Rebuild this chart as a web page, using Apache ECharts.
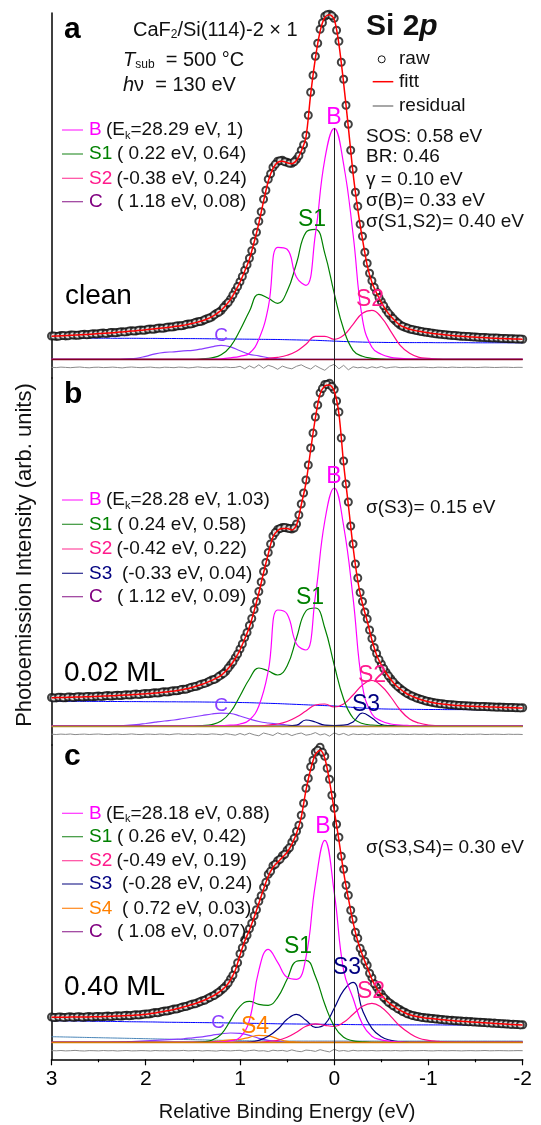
<!DOCTYPE html>
<html>
<head>
<meta charset="utf-8">
<script src="https://cdn.jsdelivr.net/npm/echarts@6/dist/echarts.min.js"></script>
<style>
  html, body { margin: 0; padding: 0; background: #fff; }
  #chart { width: 541px; height: 1125px; }
</style>
</head>
<body>
<div id="chart"></div>
<script>
// relative binding energy grids (eV)
const E05 = [3,2.95,2.9,2.85,2.8,2.75,2.7,2.65,2.6,2.55, 2.5,2.45,2.4,2.35,2.3,2.25,2.2,2.15,2.1,2.05,
  2,1.95,1.9,1.85,1.8,1.75,1.7,1.65,1.6,1.55, 1.5,1.45,1.4,1.35,1.3,1.25,1.2,1.15,1.1,1.05,
  1,0.95,0.9,0.85,0.8,0.75,0.7,0.65,0.6,0.55, 0.5,0.45,0.4,0.35,0.3,0.25,0.2,0.15,0.1,0.05,
  0,-0.05,-0.1,-0.15,-0.2,-0.25,-0.3,-0.35,-0.4,-0.45, -0.5,-0.55,-0.6,-0.65,-0.7,-0.75,-0.8,-0.85,-0.9,-0.95,
  -1,-1.05,-1.1,-1.15,-1.2,-1.25,-1.3,-1.35,-1.4,-1.45, -1.5,-1.55,-1.6,-1.65,-1.7,-1.75,-1.8,-1.85,-1.9,-1.95, -2];
// the in-between raw data points
const Emid = [2.975,2.925,2.875,2.825,2.775,2.725,2.675,2.625,2.575,2.525, 2.475,2.425,2.375,2.325,2.275,2.225,2.175,2.125,2.075,2.025,
  1.975,1.925,1.875,1.825,1.775,1.725,1.675,1.625,1.575,1.525, 1.475,1.425,1.375,1.325,1.275,1.225,1.175,1.125,1.075,1.025,
  0.975,0.925,0.875,0.825,0.775,0.725,0.675,0.625,0.575,0.525, 0.475,0.425,0.375,0.325,0.275,0.225,0.175,0.125,0.075,0.025,
  -0.025,-0.075,-0.125,-0.175,-0.225,-0.275,-0.325,-0.375,-0.425,-0.475, -0.525,-0.575,-0.625,-0.675,-0.725,-0.775,-0.825,-0.875,-0.925,-0.975,
  -1.025,-1.075,-1.125,-1.175,-1.225,-1.275,-1.325,-1.375,-1.425,-1.475, -1.525,-1.575,-1.625,-1.675,-1.725,-1.775,-1.825,-1.875,-1.925,-1.975];
const E10 = [3,2.9,2.8,2.7,2.6,2.5,2.4,2.3,2.2,2.1, 2,1.9,1.8,1.7,1.6,1.5,1.4,1.3,1.2,1.1,
  1,0.9,0.8,0.7,0.6,0.5,0.4,0.3,0.2,0.1, 0,-0.1,-0.2,-0.3,-0.4,-0.5,-0.6,-0.7,-0.8,-0.9,
  -1,-1.1,-1.2,-1.3,-1.4,-1.5,-1.6,-1.7,-1.8,-1.9, -2];

// ---- panel a : clean ----
const rawA = [23.3,22.9,23.8,23.4,24.3,24.0,24.2,25.0,24.8,25.6, 25.5,26.3,26.1,26.9,26.8,27.6,27.5,28.5,28.4,29.3,
  29.3,30.3,30.2,31.3,31.3,32.4,32.5,33.6,33.8,35.3, 35.8,37.5,38.3,40.6,42.3,45.9,48.8,54.5,60.2,68.6,
  77.5,89,101,118,138,160,180,192,198,199, 197,196,200,209,224,267,303,330,343,345,
  341,318,280,235,190,153,123,96,78.5,67, 57.8,49.6,43.5,38.4,34.3,32.1,30.3,29.2,28.2,27.4,
  26.7,26.0,25.3,24.9,24.4,23.9,23.6,23.1,22.9,22.5, 22.3,21.9,21.8,21.4,21.3,21.0,20.9,20.6,20.5,20.3, 20.1];
const rawAm = [23.4,23.1,23.9,23.6,24.4,24.1,24.8,24.6,25.4,25.3, 26.1,25.9,26.7,26.6,27.4,27.4,28.2,28.2,29.0,29.1,
  30.0,30.0,31.0,31.0,32.0,32.2,33.2,33.5,34.7,35.3, 36.8,37.7,39.6,41.2,44.2,47.0,51.8,56.8,64.3,72.8,
  82.8,94.5,108.5,127,147.5,169,185.5,195,198.5,197.5, 196,197.5,203.5,214.5,244,284,316,336.5,344.5,343.5,
  329,297,254,209,167,135,107,86,72,61.8, 53.5,46.2,40.8,36.3,33.1,31.2,29.7,28.7,27.8,27.0,
  26.3,25.6,25.1,24.6,24.1,23.8,23.3,23.0,22.7,22.4, 22.1,21.9,21.6,21.4,21.2,20.9,20.8,20.5,20.4,20.2];
const fitA = [23.0,23.2,23.5,23.7,24.0,24.2,24.5,24.7,25.0,25.3, 25.7,26.0,26.3,26.6,27.0,27.4,27.8,28.2,28.6,29.0,
  29.5,30.0,30.5,31.0,31.5,32.1,32.7,33.3,34.0,35.0, 36.0,37.2,38.5,40.3,42.5,45.5,49.0,54.0,60.0,68.0,
  77,88,100,117,136,158,178,191,197,198, 196.5,195.5,199,208,222,265,301,328,342,344.5,
  340,315,276,232,186,150,120,94,77,66, 57,49,43,38,34,31.8,30,29,28,27.2,
  26.5,25.8,25.2,24.7,24.2,23.8,23.4,23.0,22.7,22.4, 22.1,21.8,21.6,21.3,21.1,20.9,20.7,20.5,20.3,20.2, 20.0];
const resA = [-8.0,-8.3,-7.8,-8.1,-8.4,-8.0,-7.7,-8.2,-8.5,-8.0, -7.9,-8.3,-8.1,-7.8,-8.2,-8.6,-8.0,-7.7,-8.1,-8.4,
  -8.0,-7.8,-8.3,-8.5,-7.9,-8.1,-8.4,-7.8,-8.0,-8.6, -8.2,-7.6,-8.1,-8.5,-7.9,-8.0,-8.4,-7.7,-8.3,-8.1,
  -7.0,-9.5,-6.5,-8.8,-5.5,-9.0,-6.0,-7.5,-10.0,-6.8, -8.5,-9.5,-7.0,-5.5,-8.0,-9.8,-6.2,-8.8,-11.0,-7.0,
  -5.0,-9.5,-6.0,-10.5,-7.5,-8.5,-7.8, -9.0,-7.5,-8.6,-7.2,-8.8,-8.0,-7.6,-8.4,-8.1,-7.9,-8.3,-8.0,-7.8,
  -8.2,-8.4,-7.9,-8.0,-8.3,-7.8,-8.1,-8.2,-7.9,-8.0,-8.3,-8.1,-7.8,-8.0,-8.2,-8.1,-7.9,-8.0,-8.2,-8.0,-8.1];
const bgA = [21.3,21.3,21.2,21.2,21.2,21.1,21.1,21.0,21.0,21.0, 20.9,20.9,20.8,20.8,20.7,20.7,20.6,20.5,20.4,20.3,
  20.2,20.1,20.0,19.9,19.8,19.6,19.4,19.2,19.0,18.6, 18.2,17.8,17.5,17.2,17.0,16.9,16.8,16.8,16.7,16.7,
  16.7,16.6,16.6,16.6,16.6,16.5,16.5,16.5,16.5,16.5, 16.5];
const bA = [0,0,0,0,0,0,0,0,0,0, 0,0,0,0,0,0,0,0.2,0.5,1.5, 3,6,20,52,112,110,82,74,125,200,
  231,195,125,40,12,5,2,1,0.5,0.3, 0.2,0,0,0,0,0,0,0,0,0, 0];
const s1A = [0,0,0,0,0,0,0,0,0,0, 0,0,0,0,0,0,0.5,1.4,4.5,13, 29,48,65,61,56,68,96,127,130,106,
  66,30,9,3,1,0.3,0,0,0,0, 0,0,0,0,0,0,0,0,0,0, 0];
const s2A = [0,0,0,0,0,0,0,0,0,0, 0,0,0,0,0,0,0,0,0,0, 0,0,0,1,2,4,8,15,23,23,
  20,24,35,46,49,42,28,14,6,2, 1,0.3,0,0,0,0,0,0,0,0, 0];
const cA = [0,0,0,0,0,0,0,0,0.5,1, 3,5.5,7,7.5,8.5,9,10.5,12.5,14,12.5, 8.5,5,3.5,1.5,0.5,0,0,0,0,0,
  0,0,0,0,0,0,0,0,0,0, 0,0,0,0,0,0,0,0,0,0, 0];

// ---- panel b : 0.02 ML ----
const rawB = [28.5,28.1,28.8,28.3,29.1,28.7,29.3,29.0,29.6,29.3, 30.0,29.7,30.4,30.1,30.8,30.6,31.3,31.1,31.9,31.7,
  32.5,32.4,33.3,33.2,34.2,34.2,35.3,35.5,36.8,37.4, 39.1,40.0,42.1,43.4,45.9,47.6,51.0,54.8,61.0,68.2,
  77,88.5,100.5,116.5,134.5,154.5,173.5,190,196.5,198.5, 198,197,202,222,246,278,309,333,341.5,342.7,
  336.5,314,265,224,182,148,124.5,107,87.5,72.5, 62,53.8,47.2,41.6,37.5,33.9,31.1,29.1,27.3,25.8,
  24.5,23.5,22.8,22.2,21.6,21.3,20.8,20.5,20.3,20.0, 19.8,19.6,19.4,19.2,19.1,18.9,18.7,18.6,18.4,18.3, 18.2];
const rawBm = [28.1,28.7,28.3,28.9,28.6,29.2,28.9,29.5,29.2,29.8, 29.6,30.2,30.0,30.6,30.4,31.1,30.9,31.7,31.5,32.3,
  32.2,33.0,33.0,33.9,33.9,35.0,35.2,36.4,36.8,38.4, 39.4,41.2,42.6,44.8,46.5,49.6,52.6,58.0,64.0,72.0,
  82.0,93.5,107.5,124.5,144,163.5,182,193.5,197.5,198.5, 197.5,198,211,233,261,293,321,337.5,341.5,339.5,
  325,288,242,200,162,133.5,114,96,78.5,66.5, 57.5,50.2,44.2,39.4,35.6,32.4,30.0,28.0,26.5,25.0,
  23.9,23.0,22.3,21.8,21.3,20.9,20.5,20.2,20.0,19.8, 19.5,19.4,19.2,19.0,18.8,18.7,18.5,18.4,18.2,18.1];
const fitB = [28.3,28.4,28.5,28.6,28.8,28.9,29.0,29.2,29.3,29.5, 29.7,29.9,30.1,30.3,30.5,30.8,31.0,31.3,31.6,31.9,
  32.2,32.6,33.0,33.4,33.9,34.4,35.0,35.7,36.5,37.6, 38.8,40.2,41.8,43.6,45.6,47.8,50.7,55.0,60.5,67.5,
  76,87,99,115,133,153,172,189,195.5,197.5, 197.5,196,201,221,243,276,308,332,340,341,
  335,312,262,221,179,145,122,105,86,71, 61,53,46.5,41,37,33.5,30.8,28.8,27.0,25.5,
  24.2,23.2,22.5,21.9,21.4,21.0,20.6,20.3,20.0,19.8, 19.6,19.4,19.2,19.0,18.9,18.7,18.5,18.4,18.2,18.1, 18.0];
const resB = [-8.2,-8.5,-8.1,-8.4,-8.0,-8.6,-8.3,-8.1,-8.5,-8.2, -8.0,-8.4,-8.6,-8.2,-8.1,-8.5,-8.3,-7.9,-8.4,-8.6,
  -8.1,-8.2,-8.5,-8.0,-8.3,-8.7,-8.1,-7.8,-8.4,-8.2, -8.6,-8.0,-8.3,-8.5,-7.9,-8.2,-8.8,-7.7,-8.4,-9.2,
  -7.5,-9.0,-7.2,-8.8,-9.8,-7.0,-8.2,-9.5,-6.8,-8.6, -7.6,-9.6,-8.0,-7.0,-9.2,-8.4,-6.6,-9.0,-7.8,-10.2,
  -6.8,-8.8,-7.4,-9.4,-7.9,-8.6,-8.2, -8.8,-7.9,-8.5,-8.1,-8.4,-8.0,-8.6,-8.2,-8.3,-8.5,-8.1,-8.4,-8.2,
  -8.6,-8.3,-8.1,-8.4,-8.5,-8.2,-8.3,-8.6,-8.2,-8.4,-8.3,-8.1,-8.5,-8.4,-8.2,-8.3,-8.5,-8.2,-8.4,-8.3,-8.5];
const bgB = [24.8,24.8,24.7,24.7,24.6,24.6,24.5,24.5,24.4,24.4, 24.3,24.3,24.2,24.2,24.1,24.1,24.0,23.9,23.8,23.7,
  23.5,23.3,23.0,22.7,22.4,22.0,21.6,21.2,20.8,20.4, 20.0,19.3,18.6,18.0,17.5,17.1,16.9,16.8,16.7,16.6,
  16.5,16.5,16.4,16.4,16.4,16.3,16.3,16.3,16.2,16.2, 16.2];
const bB = [0,0,0,0,0,0,0,0,0,0, 0,0,0,0,0,0,0,0,0.3,0.8, 2,6,20,55,116,112,82,76,130,205,
  238,200,128,40,12,5,2,1,0.5,0.2, 0,0,0,0,0,0,0,0,0,0, 0];
const s1B = [0,0,0,0,0,0,0,0,0,0, 0,0,0,0,0,0,0.5,1.5,5,14, 30,47,58,55,51,60,88,115,118,98,
  61,27,8,2.5,1,0.3,0,0,0,0, 0,0,0,0,0,0,0,0,0,0, 0];
const s2B = [0,0,0,0,0,0,0,0,0,0, 0,0,0,0,0,0,0,0,0,0, 0,0,0,1,2,4.5,9,15,21,22,
  19,22,31,41,45.5,40,29,16,7,3, 1,0.3,0,0,0,0,0,0,0,0, 0];
const s3B = [0,0,0,0,0,0,0,0,0,0, 0,0,0,0,0,0,0,0,0,0, 0,0,0,0,0,0,0.8,6,4,0.8,
  0.3,0.8,4,13,8,1.5,0.3,0,0,0, 0,0,0,0,0,0,0,0,0,0, 0];
const cB = [0,0,0,0,0,0,0,0.3,0.7,1.3, 2.5,3.8,5,6,7.5,9,10.5,12,12.8,12.5, 10,7,4.5,3,2,1,0.3,0,0,0,
  0,0,0,0,0,0,0,0,0,0, 0,0,0,0,0,0,0,0,0,0, 0];

// ---- panel c : 0.40 ML ----
const rawC = [25.3,24.8,25.4,24.9,25.5,25.0,25.6,25.1,25.7,25.3, 25.9,25.5,26.2,25.9,26.6,26.3,27.0,26.8,27.5,27.5,
  28.4,28.6,29.7,30.1,31.3,31.8,33.2,33.9,35.6,36.5, 38.3,39.6,41.6,43.4,45.9,48.5,52.0,56.4,63.3,73.0,
  88.5,102.5,113.5,126.5,141,155,168,176.5,181.5,186.5, 192,200,211,227,254,275.5,290,295,286,263,
  234,205,173,147,123,104,89,77,64.5,55, 48.3,42.6,38.5,35.5,32.5,30.0,27.9,26.6,25.6,24.8,
  24.3,23.8,23.3,22.8,22.4,22.0,21.6,21.3,21.0,20.7, 20.4,20.1,19.8,19.5,19.2,18.9,18.6,18.3,18.1,17.8, 17.6];
const rawCm = [24.8,25.3,24.9,25.4,25.0,25.5,25.1,25.6,25.3,25.8, 25.5,26.0,25.8,26.4,26.2,26.8,26.6,27.3,27.2,28.0,
  28.2,29.3,29.6,30.8,31.2,32.6,33.3,34.8,35.7,37.5, 38.6,40.6,42.1,44.6,46.8,50.1,54.0,59.3,67.0,79.5,
  94.5,107,119,132.5,146.5,160,171,178,183,188, 194.5,204,217,239,264,282,292,290,274,247,
  218,186,157,132,110,94,81,69,58.5,50.8, 44.8,40,36.5,33.5,30.8,28.5,26.9,25.7,24.9,24.3,
  23.8,23.3,22.8,22.3,21.9,21.5,21.2,20.9,20.6,20.3, 20.0,19.7,19.4,19.1,18.8,18.5,18.2,17.9,17.7,17.4];
const fitC = [25.0,25.0,25.1,25.1,25.2,25.2,25.3,25.3,25.4,25.5, 25.6,25.7,25.9,26.1,26.3,26.5,26.7,26.9,27.2,27.6,
  28.1,28.7,29.4,30.2,31.0,31.9,32.9,34.0,35.3,36.6, 38.0,39.6,41.3,43.3,45.6,48.3,51.6,56.0,62.5,72.0,
  87,101,112,125,139,153,166,175,180,185, 190,198,209,225,252,273,288,292,284,261,
  232,202,170,144,120,101,87,75,63,54, 47.5,42,38,35,32,29.5,27.5,26.2,25.2,24.5,
  24.0,23.5,23.0,22.5,22.1,21.7,21.3,21.0,20.7,20.4, 20.1,19.8,19.5,19.2,18.9,18.6,18.3,18.0,17.8,17.5, 17.3];
const resC = [-8.3,-8.5,-8.2,-8.6,-8.4,-8.1,-8.5,-8.7,-8.3,-8.4, -8.6,-8.2,-8.5,-8.3,-8.7,-8.4,-8.2,-8.6,-8.5,-8.3,
  -8.4,-8.7,-8.2,-8.5,-8.4,-8.6,-8.3,-8.5,-8.1,-8.6, -8.4,-8.2,-8.7,-8.3,-8.5,-8.8,-8.1,-8.4,-8.6,-8.2,
  -8.0,-8.9,-8.3,-7.8,-8.7,-8.4,-9.2,-7.9,-8.5,-8.1, -9.0,-7.6,-8.8,-9.4,-7.8,-8.2,-9.1,-7.4,-8.6,-9.6,
  -7.0,-8.8,-8.2,-9.0,-8.0,-8.6,-8.3, -8.5,-8.2,-8.6,-8.4,-8.3,-8.5,-8.2,-8.6,-8.4,-8.3,-8.5,-8.4,-8.2,
  -8.5,-8.6,-8.3,-8.4,-8.5,-8.3,-8.4,-8.6,-8.4,-8.3,-8.5,-8.4,-8.2,-8.5,-8.4,-8.3,-8.4,-8.5,-8.4,-8.3,-8.4];
const bgC = [21.6,21.5,21.4,21.3,21.1,21.0,20.9,20.8,20.6,20.5, 20.4,20.3,20.1,20.0,19.9,19.8,19.7,19.6,19.5,19.3,
  19.2,19.0,18.9,18.7,18.5,18.4,18.3,18.2,18.1,18.0, 17.9,17.8,17.7,17.6,17.5,17.5,17.5,17.4,17.4,17.4,
  17.4,17.4,17.3,17.3,17.3,17.3,17.3,17.3,17.3,17.3, 17.3];
const bg2C = [5.6,5.4,5.2,5.0,4.8,4.6,4.4,4.2,4.0,3.8, 3.6,3.4,3.2,3.0,2.8,2.6,2.4,2.2,2.0,1.8,
  1.6,1.5,1.4,1.3,1.2,1.2,1.2,1.2,1.2,1.2, 1.2,1.2,1.2,1.2,1.2,1.2,1.2,1.2,1.2,1.2,
  1.2,1.2,1.2,1.2,1.2,1.2,1.2,1.2,1.2,1.2, 1.2];
const bC = [0,0,0,0,0,0,0,0,0,0, 0,0,0,0,0,0,0,0,0.5,1.5, 5,22,72,93,80,65,63,85,158,202,
  150,72,44,18,6,2.5,1,0.4,0,0, 0,0,0,0,0,0,0,0,0,0, 0];
const s1C = [0,0,0,0,0,0,0,0,0,0, 0,0,0,0,0,0,0.5,2,8,22, 36,41,38,37,45,63,81,82,66,38,
  16,5,1.5,0.5,0,0,0,0,0,0, 0,0,0,0,0,0,0,0,0,0, 0];
const s2C = [0,0,0,0,0,0,0,0,0,0, 0,0,0,0,0,0,0,0,0,0, 0,0,0,1,2,5,10,16,18.5,17,
  16,20,28,36,39,35,26,16,9,4, 2,1,0.3,0,0,0,0,0,0,0, 0];
const s3C = [0,0,0,0,0,0,0,0,0,0, 0,0,0,0,0,0,0,0,0,0, 0.2,0.5,2,6,13,23,28,22,15,18,
  34,52,60,32,14,5.5,2,0.5,0,0, 0,0,0,0,0,0,0,0,0,0, 0];
const s4C = [0,0,0,0,0,0,0,0,0,0, 0,0,0,0,0,0,0,0.5,1.5,2.5, 3,5,7,6.5,3.5,1,0.3,0,0,0,
  0,0,0,0,0,0,0,0,0,0, 0,0,0,0,0,0,0,0,0,0, 0];
const cC = [0,0,0,0,0,0,0,0.3,0.6,1, 1.5,2,2.5,3,3.5,4.5,5.5,7,8.5,9.3, 9,7,4,2,1,0.3,0,0,0,0,
  0,0,0,0,0,0,0,0,0,0, 0,0,0,0,0,0,0,0,0,0, 0];

const FONT = "'Liberation Sans', Arial, Helvetica, sans-serif";
const COL = { B: '#ff00ff', S1: '#008000', S2: '#ff0a84', S3: '#000080', S4: '#ff8000', C: '#8a3cff',
  bg: '#0000ff', fit: '#ff0000', res: '#8a8a8a' };

function pts(E, v) { return E.map(function (e, i) { return [e, v[i]]; }); }

const panels = [
  { top: 13, height: 365, ymin: -18.7, ymax: 346.3, raw: pts(E05, rawA).concat(pts(Emid, rawAm)), fit: fitA, res: resA,
    bg: bgA, zero: '#800020', vTop: Math.max.apply(null, bA),
    comps: [['C', cA], ['S2', s2A], ['S1', s1A], ['B', bA]] },
  { top: 378, height: 367, ymin: -19, ymax: 348, raw: pts(E05, rawB).concat(pts(Emid, rawBm)), fit: fitB, res: resB,
    bg: bgB, zero: '#b08a2a',
    comps: [['C', cB], ['S3', s3B], ['S2', s2B], ['S1', s1B], ['B', bB]] },
  { top: 745, height: 314.3, ymin: -17, ymax: 297.3, raw: pts(E05, rawC).concat(pts(Emid, rawCm)), fit: fitC, res: resC,
    bg: bgC, zero: '#d87a00', bg2: bg2C,
    comps: [['C', cC], ['S4', s4C], ['S3', s3C], ['S2', s2C], ['S1', s1C], ['B', bC]] }
];

const grids = [], xAxes = [], yAxes = [], series = [];
panels.forEach(function (p, i) {
  grids.push({ left: 51.5, right: 18.3, top: p.top, height: p.height });
  const last = i === panels.length - 1;
  xAxes.push({
    gridIndex: i, type: 'value', min: -2, max: 3, interval: 1, inverse: true, show: last,
    axisLine: { onZero: false, lineStyle: { color: '#000', width: 1.5 } },
    axisTick: { length: 6, lineStyle: { color: '#000', width: 1.2 } },
    minorTick: { show: true, splitNumber: 2, length: 3, lineStyle: { color: '#000', width: 1.2 } },
    axisLabel: { fontSize: 21, color: '#000', fontFamily: FONT, margin: 9, showMinLabel: true, showMaxLabel: true },
    splitLine: { show: false },
    name: last ? 'Relative Binding Energy (eV)' : '', nameLocation: 'middle', nameGap: 43,
    nameTextStyle: { fontSize: 20, color: '#111', fontFamily: FONT }
  });
  yAxes.push({
    gridIndex: i, type: 'value', min: p.ymin, max: p.ymax,
    axisLine: { show: true, onZero: false, lineStyle: { color: '#000', width: 1.5 } },
    axisTick: { show: false }, axisLabel: { show: false }, splitLine: { show: false }
  });
  const base = { xAxisIndex: i, yAxisIndex: i, type: 'line', symbol: 'none', silent: true, animation: false };
  // background, zero line and the vertical 0 eV line
  const vLine = p.vTop !== undefined
    ? [[{ coord: [0, p.ymin] }, { coord: [0, p.vTop] }]]
    : [{ xAxis: 0 }];
  series.push(Object.assign({}, base, {
    data: pts(E10, p.bg), smooth: 0.4, lineStyle: { color: COL.bg, width: 1 }, z: 2,
    markLine: { silent: true, symbol: 'none', label: { show: false }, animation: false,
      data: [{ yAxis: 0, lineStyle: { color: p.zero, width: 1.4, type: 'solid' } }].concat(vLine),
      lineStyle: { color: '#222', width: 1, type: 'solid' } }
  }));
  if (p.bg2) {
    series.push(Object.assign({}, base, { data: pts(E10, p.bg2), smooth: 0.4, lineStyle: { color: '#4a86b8', width: 1 }, z: 2 }));
  }
  p.comps.forEach(function (c) {
    series.push(Object.assign({}, base, { name: c[0], data: pts(E10, c[1]), smooth: 0.45,
      lineStyle: { color: COL[c[0]], width: 1.2 }, z: 3 }));
  });
  series.push({ type: 'scatter', xAxisIndex: i, yAxisIndex: i, data: p.raw, symbol: 'emptyCircle',
    symbolSize: 7, itemStyle: { color: '#111', borderWidth: 1 }, silent: true, z: 4, animation: false });
  series.push(Object.assign({}, base, { data: pts(E05, p.fit), smooth: 0.3, lineStyle: { color: COL.fit, width: 1.5 }, z: 5 }));
  series.push(Object.assign({}, base, { data: pts(E05, p.res), lineStyle: { color: COL.res, width: 1 }, z: 3 }));
});

// ---------- texts ----------
const g = [];
function T(x, y, text, size, fill, extra) {
  g.push({ type: 'text', x: x, y: y, z: 100, silent: true,
    style: Object.assign({ text: text, fill: fill || '#111', fontSize: size, fontFamily: FONT,
      align: 'left', verticalAlign: 'middle' }, extra || {}) });
}
function R(x, y, text, size, sub) {
  T(x, y, text, size, '#111', { rich: {
    t: { fontSize: size, fontFamily: FONT, fill: '#111', lineHeight: 22 },
    i: { fontSize: size, fontFamily: FONT, fill: '#111', fontStyle: 'italic', lineHeight: 22 },
    s: { fontSize: Math.round(size * (sub || 0.58)), fontFamily: FONT, fill: '#111', verticalAlign: 'bottom', lineHeight: 10 },
    b: { fontSize: size, fontFamily: FONT, fill: '#111', fontWeight: 'bold', lineHeight: 30 },
    bi: { fontSize: size, fontFamily: FONT, fill: '#111', fontWeight: 'bold', fontStyle: 'italic', lineHeight: 30 }
  } });
}
function L(x1, x2, y, color, w) {
  g.push({ type: 'line', z: 100, silent: true, shape: { x1: x1, y1: y, x2: x2, y2: y },
    style: { stroke: color, lineWidth: w || 1.2 } });
}
function legend(rows) {
  rows.forEach(function (r) {
    L(62, 83, r.y, r.line);
    T(89, r.y, r.key, 19, r.color);
    R(r.x, r.y, r.txt, 19);
  });
}
const KEY = { B: '#ff00ff', S1: '#008000', S2: '#ff1a8c', S3: '#000080', S4: '#ff8000', C: '#800080' };
const LINE = { B: '#ff33ff', S1: '#3a963a', S2: '#ff4aa0', S3: '#2a2a90', S4: '#ff8a20', C: '#9a3a9a' };
function row(k, y, x, txt) { return { key: k, y: y, x: x, txt: txt, color: KEY[k], line: LINE[k] }; }

// panel a
T(64, 30, 'a', 30, '#000', { fontWeight: 'bold' });
R(133, 30, '{t|CaF}{s|2}{t|/Si(114)-2 × 1}', 20);
R(123, 60, '{i|T}{s|sub}{t|  = 500 °C}', 20, 0.62);
R(123, 85, '{i|h}{t|ν  = 130 eV}', 20);
R(366, 27, '{b|Si 2}{bi|p}', 30);
g.push({ type: 'circle', z: 100, silent: true, shape: { cx: 381.7, cy: 59.3, r: 3.5 }, style: { fill: '#fff', stroke: '#111', lineWidth: 1 } });
T(399, 59, 'raw', 19);
L(372.7, 393.3, 81.7, COL.fit, 1.5); T(399, 82, 'fitt', 19);
L(372.7, 393.3, 106, COL.res, 1.5); T(399, 106, 'residual', 19);
T(366, 136.7, 'SOS: 0.58 eV', 19);
T(366, 156.7, 'BR: 0.46', 19);
T(366, 180, 'γ = 0.10 eV', 19);
T(366, 201, 'σ(B)= 0.33 eV', 19);
T(366, 221.7, 'σ(S1,S2)= 0.40 eV', 19);
legend([
  row('B', 130, 106, '{t|(E}{s|k}{t|=28.29 eV, 1)}'),
  row('S1', 154, 117, '{t|( 0.22 eV, 0.64)}'),
  row('S2', 178.3, 116.5, '{t|(-0.38 eV, 0.24)}'),
  row('C', 201.7, 117, '{t|( 1.18 eV, 0.08)}')
]);
T(65, 296, 'clean', 28, '#000');
T(334, 118, 'B', 23, COL.B, { align: 'center' });
T(312, 220, 'S1', 23, COL.S1, { align: 'center' });
T(370, 300, 'S2', 23, KEY.S2, { align: 'center' });
T(221, 336, 'C', 19, COL.C, { align: 'center' });

// panel b
T(64, 395, 'b', 30, '#000', { fontWeight: 'bold' });
legend([
  row('B', 500, 106, '{t|(E}{s|k}{t|=28.28 eV, 1.03)}'),
  row('S1', 524.3, 117, '{t|( 0.24 eV, 0.58)}'),
  row('S2', 549, 116.5, '{t|(-0.42 eV, 0.22)}'),
  row('S3', 573.3, 122, '{t|(-0.33 eV, 0.04)}'),
  row('C', 596.7, 117, '{t|( 1.12 eV, 0.09)}')
]);
T(366, 508, 'σ(S3)= 0.15 eV', 19);
T(64, 673, '0.02 ML', 28, '#000');
T(334, 477, 'B', 23, COL.B, { align: 'center' });
T(310, 598, 'S1', 23, COL.S1, { align: 'center' });
T(372, 676, 'S2', 23, KEY.S2, { align: 'center' });
T(366, 705, 'S3', 23, COL.S3, { align: 'center' });
T(221, 706, 'C', 19, COL.C, { align: 'center' });

// panel c
T(64, 757, 'c', 30, '#000', { fontWeight: 'bold' });
legend([
  row('B', 813.3, 106, '{t|(E}{s|k}{t|=28.18 eV, 0.88)}'),
  row('S1', 836.7, 117, '{t|( 0.26 eV, 0.42)}'),
  row('S2', 860.7, 116.5, '{t|(-0.49 eV, 0.19)}'),
  row('S3', 884, 122, '{t|(-0.28 eV, 0.24)}'),
  row('S4', 908.3, 122, '{t|( 0.72 eV, 0.03)}'),
  row('C', 931.7, 117, '{t|( 1.08 eV, 0.07)}')
]);
T(366, 848, 'σ(S3,S4)= 0.30 eV', 19);
T(64, 987, '0.40 ML', 28, '#000');
T(323, 827, 'B', 23, COL.B, { align: 'center' });
T(298, 947, 'S1', 23, COL.S1, { align: 'center' });
T(347, 968, 'S3', 23, COL.S3, { align: 'center' });
T(371, 992, 'S2', 23, KEY.S2, { align: 'center' });
T(255, 1027, 'S4', 23, COL.S4, { align: 'center' });
T(218, 1023, 'C', 19, COL.C, { align: 'center' });

// y axis title
g.push({ type: 'text', x: 25, y: 555, rotation: Math.PI / 2, z: 100, silent: true,
  style: { text: 'Photoemission Intensity (arb. units)', fontSize: 22, fontFamily: FONT, fill: '#111',
    align: 'center', verticalAlign: 'middle' } });

const chart = echarts.init(document.getElementById('chart'), null, { renderer: 'canvas' });
chart.setOption({
  animation: false,
  backgroundColor: '#fff',
  grid: grids,
  xAxis: xAxes,
  yAxis: yAxes,
  series: series,
  graphic: g
});
</script>
</body>
</html>
